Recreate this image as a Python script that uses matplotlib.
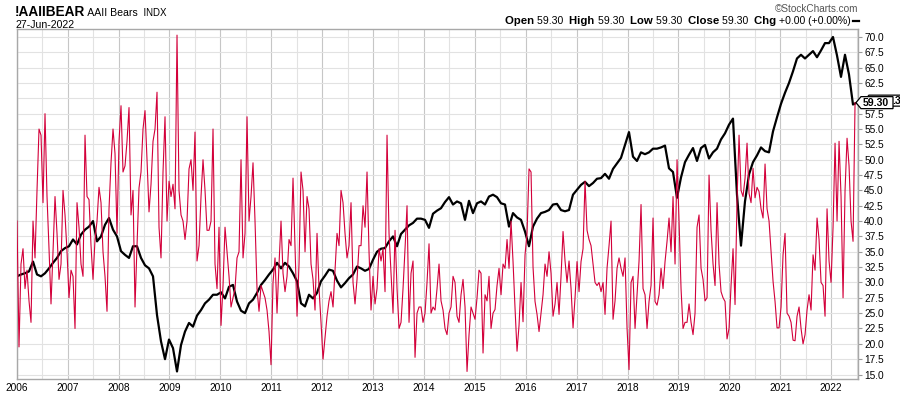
import numpy as np
import matplotlib
matplotlib.use("Agg")
import matplotlib.pyplot as plt
from matplotlib.patches import Polygon

plt.rcParams["font.family"] = ["Liberation Sans", "DejaVu Sans"]

# ---------------- data ----------------
# AAII bears, roughly one value every two weeks, Jan 2006 .. Jun 2022
red_start, red_end = 2006.006, 2022.47
bears = [
    # 2006 - early 2008
    40, 19.5, 33, 35.5, 29, 32, 27, 23.5, 40, 34, 45, 55, 54, 43, 57.5, 44, 35.5, 26.5, 35, 44,
    38, 30.5, 33, 45, 41, 35, 27.5, 32, 31, 22.5, 43, 39, 33, 31, 54, 44, 43.5, 36, 30.5, 37,
    40, 45.5, 43, 35, 31, 25.3, 42, 49.5, 55, 51, 38, 53, 58.8, 48, 49, 53, 58.5, 41, 45,
    # 2008 - 2010
    26, 36, 45.4, 48, 55, 58, 50, 41.5, 46, 53, 55, 61, 39, 34, 48, 57, 40, 46.5, 44, 46,
    42, 70.3, 45, 41, 40, 37, 40, 48.5, 50, 45, 54.5, 33.5, 36, 44, 50, 45, 38.5, 38.5, 40, 55,
    33, 29, 39, 23, 29.5, 39, 35, 31, 26, 27.5, 29, 34, 35, 50, 34, 38, 57, 40, 44, 49.5,
    # 2010 - 2013
    40, 29, 25.3, 29.5, 28.5, 27.5, 25.5, 22, 16.6, 30, 34, 25, 33, 40, 31.5, 28.5, 31, 37, 36, 47,
    36, 24.5, 33, 48, 45, 35, 44, 42, 33, 30.5, 25.5, 38, 29, 23.5, 17.5, 21, 24.5, 27, 28.5, 26,
    32, 38, 36, 45, 43, 38, 34, 36, 43, 30, 26.5, 30.5, 36, 36, 42.5, 39, 48, 35, 25.5, 31,
    # 2013 - 2015
    26.5, 29, 35.5, 33.5, 35.5, 28.5, 54, 38, 31.5, 25, 38.5, 29, 22.5, 23.5, 29, 35.5, 42.5, 23.5, 31.5, 33.5,
    17.8, 25, 26, 26, 23.5, 25, 30, 36.3, 25, 26, 25.5, 29, 33, 27, 25.5, 22.5, 21.5, 25, 26, 31,
    30, 24.5, 23.5, 28, 30.5, 26, 15.5, 21.5, 26, 25, 24, 27.5, 32, 31.5, 18.5, 28, 27, 31, 22.5, 25,
    # 2015 - 2017
    25.6, 29.5, 32.3, 28, 33, 32.3, 37, 32.3, 40, 33.4, 25.8, 18.8, 23, 30, 23.6, 34.5, 38, 48.5, 48, 32.5,
    26.9, 24.8, 22, 25, 28, 33, 31, 35, 31.5, 24.5, 26.5, 30, 24.8, 31, 38.3, 33.5, 30, 33.5, 29, 22.6,
    27.5, 33.4, 28.5, 33.4, 35.5, 46.5, 38.5, 37, 36, 33, 30, 29.5, 30, 28.5, 30, 24.8, 32.3, 36, 40, 24,
    # 2017 - 2020
    27, 32.3, 34, 32.3, 31, 34, 22.6, 15.8, 30, 31, 22.5, 28, 33.5, 42.7, 29, 28, 22.5, 26.9, 29.5, 40.5,
    26.9, 26.3, 28, 32.3, 29, 33.4, 36.7, 40.5, 35, 44, 33, 50, 40, 29, 22.5, 23.5, 23.5, 26.5, 23.5, 21.5,
    25, 39, 41, 32.3, 30.5, 27, 27.5, 47.5, 38.5, 33, 29.5, 43, 33, 28.5, 27.5, 26.9, 20.8, 22.5, 29.5, 35.5,
    # 2020 - 2022
    26.4, 43.5, 54, 45, 44, 47, 52.7, 44.5, 43, 48.6, 43.8, 45.5, 44.8, 42, 40.5, 49.3, 42, 40, 35, 30.2,
    26.9, 22.6, 22.6, 26, 34.5, 38, 25, 24.5, 23.5, 20.6, 20.5, 24.5, 26, 22.5, 20, 21.5, 25.5, 28, 25.5, 34.5,
    32, 40.5, 37, 30, 29.5, 24.5, 42, 33.5, 30, 39, 52.7, 40, 53, 44, 27.5, 45, 53.5, 49, 40, 36.7, 59.3,
]

# S&P 500 overlay (scaled to the same axis), roughly monthly
spx_start, spx_end = 2006.006, 2022.508
spx = [
    31.0, 31.3, 31.5, 31.8, 33.4, 31.3, 31.0, 31.5, 32.3, 33.2, 34, 35.1, 35.6, 35.9, 37, 36.2, 37.8, 38.6, 39.1, 40,
    36.7, 37.5, 39.4, 40.5, 38.6, 37.5, 35.1, 34.5, 34, 35.9,
    35.9, 34, 32.8, 32.3, 31, 24.7, 20.4, 17.5, 20.7, 19.3, 15.5, 19.8, 22, 23.4, 22.8, 24.6, 25.5, 26.6, 27.2, 28,
    28, 28.4, 27.4, 29.3, 29.6, 26.9, 25.4, 25, 26.6, 27.2,
    28.3, 29.6, 30.4, 31.3, 32.1, 33.2, 32.3, 33.2, 32.6, 31.5, 30.2, 26.6, 26.1, 28, 27.4, 28.3, 30.2, 31.1, 32.1, 31.9,
    30.3, 29.2, 29.9, 30.7, 31.3, 32.6, 32.3, 31.9, 32.2, 33.7,
    35, 35.5, 35.6, 36.7, 37.5, 35.9, 37.9, 38.6, 39.3, 39.7, 40.4, 40.4, 40.2, 38.9, 41.2, 41.7, 42.1, 43.1, 43.9, 42.7,
    43.2, 42.9, 40.2, 43.3, 41.3, 42.9, 43.2, 42.7, 44, 44.3,
    43.9, 42.9, 42.7, 39.1, 41.3, 40.6, 40.2, 38.3, 35.9, 39.1, 40.4, 41.3, 41.5, 41.8, 42.7, 42.8, 41.8, 41.6, 41.8, 44.3,
    45.1, 45.9, 46.4, 45.7, 46.2, 46.9, 47, 47.7, 46.9, 48.5,
    49.4, 50.3, 52.4, 54.5, 50.5, 49.8, 51.2, 50.9, 51.2, 51.8, 51.8, 52, 52.3, 48.6, 48, 43.8, 47.1, 49.6, 50.8, 51.9,
    49.8, 51.9, 52.4, 50.2, 51.2, 51.8, 53.3, 54.3, 55.7, 56.7,
    44.3, 36, 43.2, 47.6, 49.6, 50.7, 52, 51.4, 51.2, 54.6, 56.9, 59.1, 60.9, 62.5, 64.4, 66.5, 67.1, 66.5, 67.1, 67.7,
    66.7, 67.8, 69, 69, 70, 67, 63.5, 67.1, 63.9, 59, 59.3,
]

years = list(range(2006, 2023))
y_ticks = np.arange(15.0, 70.01, 2.5)
last_close = 59.30

# ---------------- figure ----------------
W, H = 900, 396
fig = plt.figure(figsize=(W / 100, H / 100), dpi=100)
ax = fig.add_axes([16.5 / W, 1 - 379 / H, (858 - 16.5) / W, (379 - 29) / H])

red_x = np.linspace(red_start, red_end, len(bears))
spx_x = np.linspace(spx_start, spx_end, len(spx))

ax.plot(spx_x, spx, color="black", lw=1.6, zorder=2, solid_joinstyle="round")
ax.plot(red_x, bears, color="#d3003a", lw=0.8, zorder=3)

ax.set_xlim(2005.996, 2022.528)
ax.set_ylim(14.27, 71.3)

ax.set_xticks(years)
ax.set_xticklabels([str(y) for y in years])
ax.set_xticks([y + 0.5 for y in years[:-1]] + [2022.5], minor=True)
ax.set_yticks(y_ticks)
# the 60.0 label sits under the last-value tag in the reference
ax.set_yticklabels(["" if abs(v - 60) < 0.01 else f"{v:.1f}" for v in y_ticks])
ax.yaxis.tick_right()

ax.tick_params(axis="x", which="both", length=0, labelsize=7.3, pad=3)
ax.tick_params(axis="y", length=3, color="#9a9a9a", labelsize=7.3, pad=1.5)

ax.grid(which="major", axis="x", color="#c6c6c6", lw=0.8, zorder=0)
ax.grid(which="minor", axis="x", color="#e2e2e2", lw=0.8, zorder=0)
ax.grid(which="major", axis="y", color="#e2e2e2", lw=0.8, zorder=0)
for s in ax.spines.values():
    s.set_color("#a8a8a8")
    s.set_linewidth(1.0)

# ---------------- header ----------------
renderer = fig.canvas.get_renderer()


def text_row(x_px, y_px, pieces, align="left"):
    objs = [fig.text(0, 0, s, va="baseline", **kw) for s, kw in pieces]
    widths = [t.get_window_extent(renderer).width for t in objs]
    cur = x_px - sum(widths) if align == "right" else x_px
    for t, w in zip(objs, widths):
        t.set_position((cur / W, 1 - y_px / H))
        cur += w
    return cur


b = dict(fontsize=8.2, fontweight="bold", color="black")
n = dict(fontsize=7.6, color="black")
text_row(15, 16, [("!AAIIBEAR", dict(fontsize=9.8, fontweight="bold")),
                  (" AAII Bears", dict(fontsize=7.6)),
                  ("  INDX", dict(fontsize=7.0))])
fig.text(15 / W, 1 - 28 / H, "27-Jun-2022", fontsize=7.6, va="baseline")

txt = f"{last_close:.2f}"
text_row(851, 24, [("Open ", b), (txt + "  ", n), ("High ", b), (txt + "  ", n),
                   ("Low ", b), (txt + "  ", n), ("Close ", b), (txt + "  ", n),
                   ("Chg ", b), ("+0.00 (+0.00%)", n)], align="right")
fig.add_artist(plt.Line2D([853 / W, 859 / W], [1 - 20.5 / H] * 2, color="black", lw=1.6))
fig.text(858 / W, 1 - 12 / H, "\u00a9StockCharts.com", fontsize=7.2, color="#555555",
         ha="right", va="baseline")

# ---------------- last value tags ----------------
_, yd = ax.transData.transform((2022.0, last_close))
yc = H - yd


def tag(x0, yc, w, h, z):
    pts = [(x0, yc), (x0 + 5, yc - h / 2), (x0 + w, yc - h / 2),
           (x0 + w, yc + h / 2), (x0 + 5, yc + h / 2)]
    poly = Polygon([(px / W, 1 - py / H) for px, py in pts], closed=True,
                   transform=fig.transFigure, facecolor="white", edgecolor="black",
                   lw=0.9, zorder=z)
    fig.add_artist(poly)


# overlay tag, mostly hidden behind the main one
tag(864, yc - 2, 40, 11, 5)
fig.text(897 / W, 1 - (yc - 2) / H, ".3", fontsize=7.6, fontweight="bold",
         ha="center", va="center", zorder=5.1)
# main tag
tag(856, yc, 37, 12, 6)
fig.text(876 / W, 1 - yc / H, txt, fontsize=7.6, fontweight="bold",
         ha="center", va="center", zorder=6.1)

fig.savefig("out.png", dpi=100)
